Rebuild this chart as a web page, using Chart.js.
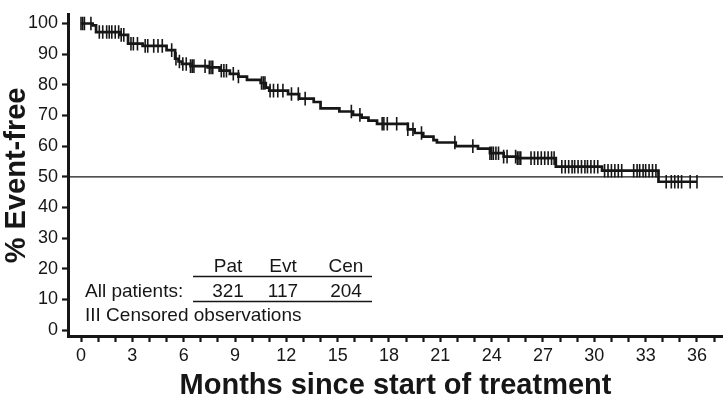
<!DOCTYPE html>
<html lang="en">
<head>
<meta charset="UTF-8">
<title>Event-free survival</title>
<script src="https://cdn.jsdelivr.net/npm/chart.js@4.4.0/dist/chart.umd.min.js"></script>
<style>
  html, body { margin: 0; padding: 0; background: #fff; }
  canvas { display: block; }
</style>
</head>
<body>
<canvas id="km" width="723" height="408"></canvas>
<script>
// KM steps: time (months) where the curve takes a new value
var stepTimes = [0, 0.68, 0.88, 2.3, 2.75, 3.6, 5.0, 5.5, 5.7, 5.9, 6.4, 7.4, 8.1, 8.7, 9.2, 9.7,
  10.5, 10.8, 11.0, 12.1, 12.75, 13.6, 14.0, 15.1, 15.9, 16.4, 16.8, 17.3, 19.1, 19.5, 20.0,
  20.6, 20.8, 21.9, 23.2, 23.9, 24.7, 25.5, 27.75, 30.45, 33.75, 36.0];
var stepValues = [100, 99.4, 97.2, 96.3, 93.4, 92.7, 91.3, 88.5, 87.6, 86.8, 86.1, 85.7, 84.6, 83.6, 82.7, 81.6,
  80.6, 79.1, 78.1, 77.0, 75.5, 74.4, 72.3, 71.3, 70.2, 69.3, 68.3, 67.3, 65.5, 64.3, 63.1,
  62.0, 61.2, 60.0, 59.2, 57.7, 56.6, 56.1, 53.3, 52.0, 48.4, 48.4];

// censored observations (months)
var censorTimes = [0.0, 0.1, 0.2, 0.58, 1.07, 1.27, 1.5, 1.65, 1.8, 2.0, 2.2, 2.35, 2.5, 2.92, 3.06, 3.3,
  3.75, 3.9, 4.25, 4.5, 4.75, 5.3, 5.55, 5.75, 5.95, 6.15, 6.4, 6.5, 6.6, 7.25, 7.5, 7.6, 7.7,
  8.2, 8.35, 8.5, 8.9, 9.2, 10.55, 10.65, 10.75, 11.05, 11.25, 11.5, 11.8, 12.3, 12.7, 13.1,
  15.8, 16.3, 17.6, 17.7, 17.9, 18.45, 19.1, 19.4, 19.9, 21.85, 22.9, 23.9, 24.0, 24.1, 24.25,
  24.4, 24.7, 24.9, 25.4, 25.5, 25.6, 25.7, 26.3, 26.5, 26.7, 26.9, 27.1, 27.3, 27.5, 27.65,
  28.1, 28.3, 28.5, 28.7, 28.85, 29.05, 29.25, 29.45, 29.6, 29.8, 30.0, 30.2, 30.6, 30.8,
  31.0, 31.2, 31.4, 31.6, 32.3, 32.5, 32.65, 32.85, 33.0, 33.2, 33.4, 33.6, 34.2, 34.5,
  34.7, 34.9, 35.1, 35.6, 36.0];

var xTicks = [];
for (var m = 0; m <= 37; m++) xTicks.push(m);
var yTicks = [0, 10, 20, 30, 40, 50, 60, 70, 80, 90, 100];
var refLevel = 50;

var tableHead = ['Pat', 'Evt', 'Cen'];
var tableRow = ['321', '117', '204'];

function survivalAt(t) {
  var v = stepValues[0];
  for (var i = 0; i < stepTimes.length; i++) {
    if (stepTimes[i] <= t) v = stepValues[i];
  }
  return v;
}

var kmData = stepTimes.map(function(t, i) { return {x: t, y: stepValues[i]}; });
var censorData = censorTimes.map(function(t) { return {x: t, y: survivalAt(t)}; });

var ink = '#161616';
var font = 'Liberation Sans, Arial, Helvetica, sans-serif';

var annotations = {
  id: 'annotations',
  afterDraw: function(chart) {
    var ctx = chart.ctx;
    ctx.save();
    ctx.fillStyle = ink;
    ctx.strokeStyle = ink;
    ctx.font = '19px ' + font;
    ctx.textBaseline = 'alphabetic';
    var cols = [228, 283, 346];
    ctx.textAlign = 'center';
    tableHead.forEach(function(s, i) { ctx.fillText(s, cols[i], 272); });
    tableRow.forEach(function(s, i) { ctx.fillText(s, cols[i], 297); });
    ctx.textAlign = 'left';
    ctx.fillText('All patients:', 85, 297);
    ctx.fillText('III Censored observations', 85, 321);
    ctx.lineWidth = 1.5;
    ctx.beginPath();
    ctx.moveTo(193, 276.5); ctx.lineTo(372, 276.5);
    ctx.moveTo(193, 301.5); ctx.lineTo(372, 301.5);
    ctx.stroke();
    ctx.restore();
  }
};

new Chart(document.getElementById('km'), {
  type: 'scatter',
  data: {
    datasets: [{
      data: [{x: -0.76, y: refLevel}, {x: 37.52, y: refLevel}],
      showLine: true,
      borderColor: ink,
      borderWidth: 1.3,
      pointRadius: 0
    }, {
      data: kmData,
      showLine: true,
      stepped: 'before',
      borderColor: ink,
      borderWidth: 2.7,
      pointRadius: 0
    }, {
      data: censorData,
      showLine: false,
      pointStyle: 'line',
      rotation: 90,
      pointRadius: 6.8,
      borderColor: ink,
      borderWidth: 1.6
    }]
  },
  options: {
    responsive: false,
    animation: false,
    layout: {autoPadding: false, padding: {top: 3, right: 0, left: 0, bottom: 0}},
    plugins: {legend: {display: false}, tooltip: {enabled: false}},
    scales: {
      x: {
        type: 'linear',
        min: -0.76,
        max: 37.52,
        afterBuildTicks: function(scale) { scale.ticks = xTicks.map(function(v) { return {value: v}; }); },
        afterFit: function(scale) { scale.height = 72; },
        grid: {drawOnChartArea: false, drawTicks: true, tickLength: 6, tickWidth: 2.2, tickColor: ink},
        border: {display: true, width: 3, color: ink},
        ticks: {
          autoSkip: false,
          maxRotation: 0,
          padding: 3,
          color: ink,
          font: {family: font, size: 18},
          callback: function(v) { return v % 3 === 0 ? String(v) : ''; }
        },
        title: {
          display: true,
          text: 'Months since start of treatment',
          color: ink,
          font: {family: font, size: 29, weight: 'bold'},
          padding: {top: 0, bottom: 5}
        }
      },
      y: {
        min: -1.89,
        max: 102.83,
        afterBuildTicks: function(scale) { scale.ticks = yTicks.map(function(v) { return {value: v}; }); },
        afterFit: function(scale) { scale.width = 68; },
        grid: {drawOnChartArea: false, drawTicks: true, tickLength: 6, tickWidth: 2.2, tickColor: ink},
        border: {display: true, width: 3, color: ink},
        ticks: {
          padding: 4,
          color: ink,
          font: {family: font, size: 18}
        },
        title: {
          display: true,
          text: '% Event-free',
          color: ink,
          font: {family: font, size: 29, weight: 'bold'},
          padding: {top: 0, bottom: 0}
        }
      }
    }
  },
  plugins: [annotations]
});
</script>
</body>
</html>
